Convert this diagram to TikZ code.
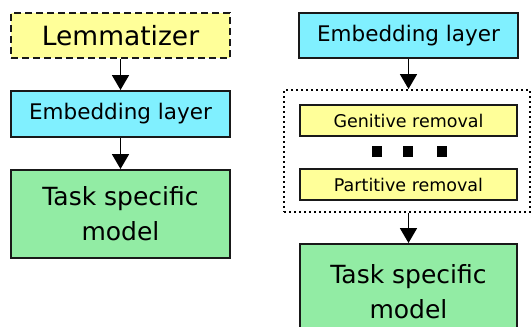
\documentclass[tikz,border=0pt]{standalone}
\usepackage{fontspec}
\setmainfont{DejaVu Sans}
\usetikzlibrary{arrows.meta}
\definecolor{lemyellow}{RGB}{255,255,153}
\definecolor{embcyan}{RGB}{128,240,255}
\definecolor{taskgreen}{RGB}{146,236,164}
\begin{document}
\begin{tikzpicture}[x=1pt,y=-1pt,
  box/.style={draw=black!90,line width=2pt,inner sep=0pt,anchor=north west},
  arr/.style={line width=1.8pt,-{Triangle[length=15pt,width=17pt]}},
  sq/.style={fill=black,inner sep=0pt,minimum width=10pt,minimum height=11pt}]
\useasboundingbox (0,0) rectangle (531,327);
% left column
\node[box,fill=lemyellow,dash pattern=on 7pt off 4pt,minimum width=219pt,minimum height=45pt,font=\fontsize{26.5}{30}\selectfont] (lem) at (10,12) {Lemmatizer};
\node[box,fill=embcyan,minimum width=219pt,minimum height=46pt,font=\fontsize{21.5}{26}\selectfont] (embL) at (10,90) {Embedding layer};
\node[box,fill=taskgreen,minimum width=219pt,minimum height=88pt,align=center,font=\fontsize{25}{35}\selectfont] (taskL) at (10,169) {Task specific\\model};
\draw[arr] (lem.south) -- (embL.north);
\draw[arr] (embL.south) -- (taskL.north);
% right column
\node[box,fill=embcyan,minimum width=219pt,minimum height=45pt,font=\fontsize{21.5}{26}\selectfont] (embR) at (298,12) {Embedding layer};
\node[draw=black,line width=2pt,dash pattern=on 2pt off 3pt,inner sep=0pt,anchor=north west,minimum width=246pt,minimum height=122pt] (cont) at (283,89) {};
\node[box,fill=lemyellow,minimum width=217pt,minimum height=31pt,font=\fontsize{17.5}{21}\selectfont] (gen) at (299,104) {Genitive removal};
\node[box,fill=lemyellow,minimum width=217pt,minimum height=31pt,font=\fontsize{17.5}{21}\selectfont] (par) at (299,168) {Partitive removal};
\node[sq] (d1) at (377,151.5) {};
\node[sq] (d2) at (408,151.5) {};
\node[sq] (d3) at (441.5,151.5) {};
\node[box,fill=taskgreen,minimum width=217pt,minimum height=95pt,align=center,font=\fontsize{25}{35}\selectfont] (taskR) at (299,243) {Task specific\\model};
\draw[arr] (embR.south) -- (cont.north -| embR.south);
\draw[arr] (cont.south -| taskR.north) -- (taskR.north);
\end{tikzpicture}
\end{document}
